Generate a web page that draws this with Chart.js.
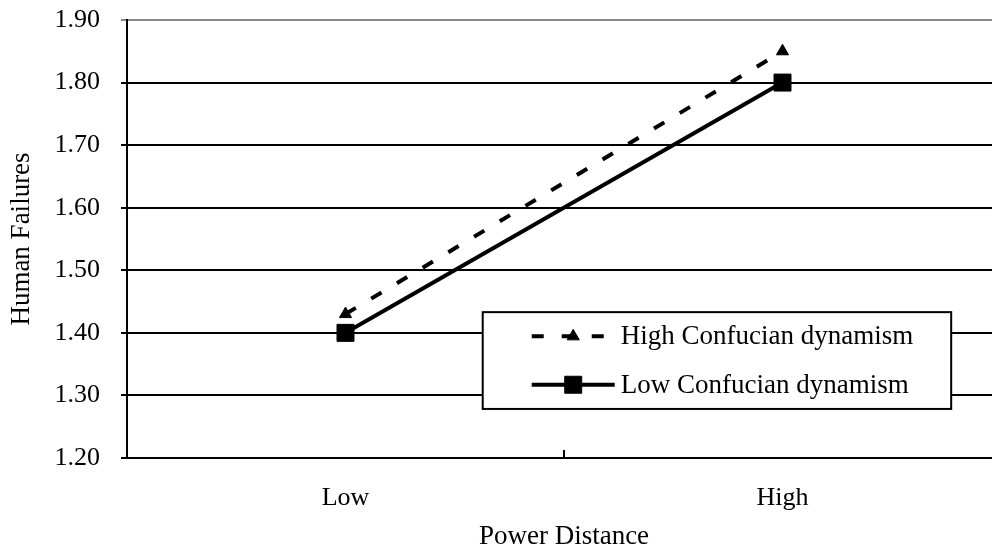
<!DOCTYPE html>
<html>
<head>
<meta charset="utf-8">
<script src="https://cdn.jsdelivr.net/npm/chart.js@4"></script>
<style>
  html, body { margin: 0; padding: 0; background: #fff; overflow: hidden; }
  #wrap { width: 992px; height: 550px; overflow: hidden; }
</style>
</head>
<body>
<div id="wrap"><canvas id="chart" width="1014" height="553"></canvas></div>
<script>
// chart data
const categories = ["Low", "High"];
const highConfucian = [1.43, 1.85];
const lowConfucian = [1.40, 1.80];
const seriesLabels = ["High Confucian dynamism", "Low Confucian dynamism"];
const yMin = 1.2;
const yMax = 1.9;
const yStep = 0.1;

const serif = "'Liberation Serif', 'Times New Roman', serif";
Chart.defaults.font.family = serif;
Chart.defaults.font.size = 26;
Chart.defaults.color = "#000";

// small tick between the categories, pointing up into the plot
const midTick = {
    id: "midTick",
    afterDatasetsDraw(chart) {
        const ctx = chart.ctx;
        const x = chart.scales.x;
        const bottom = chart.chartArea.bottom;
        ctx.save();
        ctx.strokeStyle = "#000";
        ctx.lineWidth = 2;
        for (let i = 0; i < categories.length - 1; i++) {
            const px = (x.getPixelForTick(i) + x.getPixelForTick(i + 1)) / 2;
            ctx.beginPath();
            ctx.moveTo(px, bottom);
            ctx.lineTo(px, bottom - 8);
            ctx.stroke();
        }
        ctx.restore();
    }
};

// boxed legend inside the plot area
const boxLegend = {
    id: "boxLegend",
    afterDraw(chart) {
        const ctx = chart.ctx;
        const area = chart.chartArea;
        const w = area.right - area.left;
        const h = area.bottom - area.top;
        const left = area.left + w * 0.407;
        const right = area.left + w * 0.943;
        const top = area.top + h * 0.667;
        const bottom = area.top + h * 0.888;

        ctx.save();
        ctx.fillStyle = "#fff";
        ctx.fillRect(left, top, right - left, bottom - top);
        ctx.strokeStyle = "#000";
        ctx.lineWidth = 2;
        ctx.strokeRect(left, top, right - left, bottom - top);

        const rowH = (bottom - top) / 2;
        chart.data.datasets.forEach((ds, i) => {
            const y = top + rowH * (i + 0.5);
            const x0 = left + 49;
            const x1 = left + 132;
            ctx.strokeStyle = ds.borderColor;
            ctx.lineWidth = ds.borderWidth;
            ctx.setLineDash(ds.borderDash || []);
            ctx.beginPath();
            ctx.moveTo(x0, y);
            ctx.lineTo(x1, y);
            ctx.stroke();
            ctx.setLineDash([]);
            ctx.fillStyle = ds.backgroundColor;
            ctx.lineWidth = 1;
            Chart.helpers.drawPoint(ctx, {
                pointStyle: ds.pointStyle,
                radius: ds.pointRadius,
                rotation: 0,
                borderWidth: 1
            }, (x0 + x1) / 2, y);
            ctx.fillStyle = "#000";
            ctx.textBaseline = "middle";
            ctx.textAlign = "left";
            ctx.font = "27px " + serif;
            ctx.fillText(ds.label, x1 + 6, y + 1);
        });
        ctx.restore();
    }
};

new Chart(document.getElementById("chart"), {
    type: "line",
    data: {
        labels: categories,
        datasets: [
            {
                label: seriesLabels[0],
                data: highConfucian,
                borderColor: "#000",
                backgroundColor: "#000",
                borderWidth: 4,
                borderDash: [12, 18],
                pointStyle: "triangle",
                pointRadius: 7,
                pointBorderWidth: 1
            },
            {
                label: seriesLabels[1],
                data: lowConfucian,
                borderColor: "#000",
                backgroundColor: "#000",
                borderWidth: 4,
                pointStyle: "rect",
                pointRadius: 12,
                pointBorderWidth: 1
            }
        ]
    },
    options: {
        responsive: false,
        animation: false,
        layout: { padding: { left: 0, right: 9, top: 20, bottom: 0 } },
        plugins: {
            legend: { display: false },
            tooltip: { enabled: false }
        },
        scales: {
            x: {
                offset: true,
                grid: { display: true, offset: true, drawOnChartArea: false, drawTicks: false },
                border: { color: "#000", width: 2 },
                ticks: { padding: 25 },
                title: { display: true, text: "Power Distance", font: { size: 27 }, padding: { top: 7, bottom: 0 } },
                afterFit: s => { s.height = 95; s.paddingLeft = 0; s.paddingRight = 0; }
            },
            y: {
                min: yMin,
                max: yMax,
                ticks: {
                    stepSize: yStep,
                    padding: 21,
                    callback: v => v.toFixed(2)
                },
                grid: {
                    color: ctx => ctx.tick && Math.abs(ctx.tick.value - yMax) < 1e-6 ? "#888" : "#000",
                    lineWidth: 2,
                    tickLength: 6
                },
                border: { color: "#000", width: 2 },
                title: { display: true, text: "Human Failures", font: { size: 27 }, padding: { top: 6, bottom: 0 } },
                afterFit: s => { s.width = 127; s.paddingTop = 0; s.paddingBottom = 0; }
            }
        }
    },
    plugins: [midTick, boxLegend]
});
</script>
</body>
</html>
